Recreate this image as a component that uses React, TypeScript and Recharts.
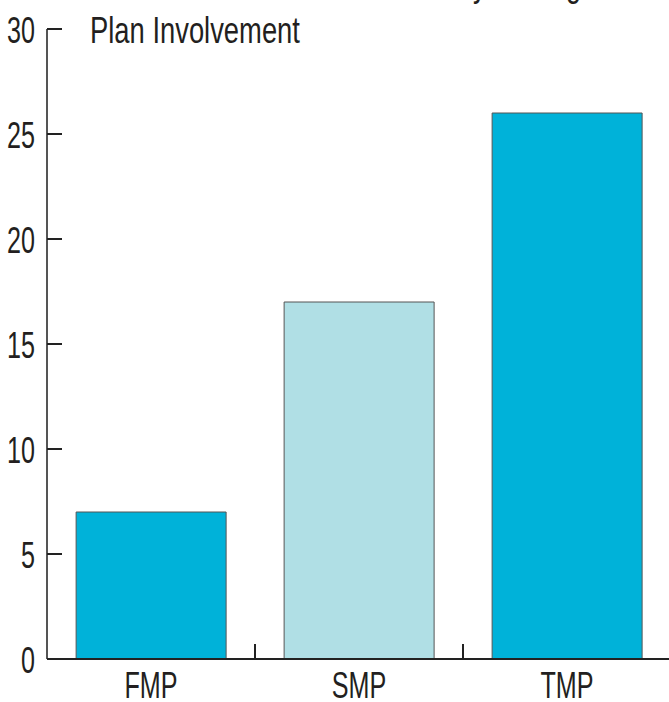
import { BarChart, Bar, XAxis, YAxis, Cell } from 'recharts'

const categories = ['FMP', 'SMP', 'TMP']
const values = [7, 17, 26]
const barColors = ['#00b2d9', '#b0dfe5', '#00b2d9']
const yTicks = [0, 5, 10, 15, 20, 25, 30]
const titleLines = ['by Strategic', 'Plan Involvement']

const data = categories.map((name, i) => ({ name, value: values[i] }))

const font = '"Liberation Sans", Arial, sans-serif'

// narrow text: the original uses a condensed face, so squeeze a regular one
const Narrow = ({ x, y, anchor = 'start', sx = 0.68, children }: any) => (
  <text
    transform={`translate(${x},${y}) scale(${sx},1)`}
    textAnchor={anchor}
    fill="#231f20"
    fontSize={37}
    fontFamily={font}
  >
    {children}
  </text>
)

const YTick = (props: any) => {
  const { x, y, payload } = props
  return (
    <g>
      <line x1={x} x2={x + 15} y1={y} y2={y} stroke="#222" strokeWidth={2} />
      <Narrow x={x - 12} y={y + 14} anchor="end">
        {payload.value}
      </Narrow>
    </g>
  )
}

const XTick = (props: any) => {
  const { x, y, payload, index } = props
  const half = payload.offset || 104
  return (
    <g>
      {index < categories.length - 1 && (
        <line x1={x + half} x2={x + half} y1={y - 15} y2={y} stroke="#222" strokeWidth={2} />
      )}
      <Narrow x={x} y={y + 39} anchor="middle">
        {payload.value}
      </Narrow>
    </g>
  )
}

export default function App() {
  return (
    <div style={{ position: 'absolute', left: 0, top: 0, width: 669, height: 702, background: '#fff' }}>
      <BarChart
        width={669}
        height={702}
        data={data}
        margin={{ top: 29, right: -2, left: 0, bottom: 0 }}
        barCategoryGap="14%"
      >
        <XAxis
          dataKey="name"
          height={43}
          axisLine={{ stroke: '#222', strokeWidth: 2 }}
          tickLine={false}
          tickSize={0}
          tickMargin={0}
          tick={<XTick />}
          interval={0}
        />
        <YAxis
          width={47}
          domain={[0, 30]}
          ticks={yTicks}
          axisLine={{ stroke: '#555', strokeWidth: 2 }}
          tickLine={false}
          tickSize={0}
          tickMargin={0}
          tick={<YTick />}
          interval={0}
        />
        <Bar dataKey="value" stroke="#555" strokeWidth={1} isAnimationActive={false}>
          {data.map((d, i) => (
            <Cell key={d.name} fill={barColors[i]} />
          ))}
        </Bar>
      </BarChart>
      <svg width={669} height={702} style={{ position: 'absolute', left: 0, top: 0, pointerEvents: 'none' }}>
        <Narrow x={458} y={-4} sx={0.73}>
          {titleLines[0]}
        </Narrow>
        <Narrow x={90} y={43} sx={0.74}>
          {titleLines[1]}
        </Narrow>
      </svg>
    </div>
  )
}
